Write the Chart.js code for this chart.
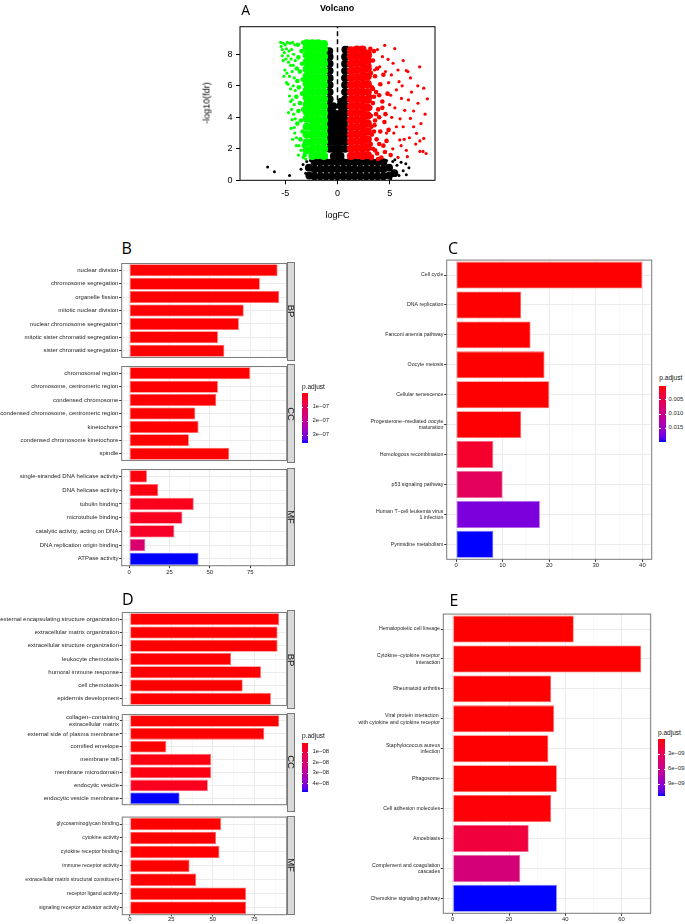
<!DOCTYPE html>
<html><head><meta charset="utf-8">
<script src="https://cdn.jsdelivr.net/npm/chart.js@4.4.1/dist/chart.umd.min.js"></script>
<style>
html,body{margin:0;padding:0;background:#fff;}
#wrap{position:relative;width:685px;height:924px;overflow:hidden;background:#fff;}
#wrap canvas{position:absolute;}
.t{position:absolute;white-space:nowrap;}
</style></head><body><div id="wrap"></div>
<script>
// ================= DATA =================
// Panel A: volcano plot (logFC vs -log10(fdr))
const volcanoXTicks = [-5, 0, 5];
const volcanoYTicks = [0, 2, 4, 6, 8];
const greenDense = [
 [-1.3,1.55],[-1.3,2.0],[-1.3,2.45],[-1.3,2.9],[-1.3,3.35],[-1.3,3.8],[-1.3,4.25],[-1.3,4.7],[-1.3,5.15],[-1.3,5.6],[-1.3,6.05],[-1.3,6.5],[-1.3,6.95],[-1.3,7.4],[-1.3,7.85],[-1.3,8.3],[-1.3,8.65],
 [-1.85,1.6],[-1.85,2.05],[-1.85,2.5],[-1.85,2.95],[-1.85,3.4],[-1.85,3.85],[-1.85,4.3],[-1.85,4.75],[-1.85,5.2],[-1.85,5.65],[-1.85,6.1],[-1.85,6.55],[-1.85,7.0],[-1.85,7.45],[-1.85,7.9],[-1.85,8.35],[-1.85,8.7],
 [-2.4,1.55],[-2.4,2.0],[-2.4,2.45],[-2.4,2.9],[-2.4,3.35],[-2.4,3.8],[-2.4,4.25],[-2.4,4.7],[-2.4,5.15],[-2.4,5.6],[-2.4,6.05],[-2.4,6.5],[-2.4,6.95],[-2.4,7.4],[-2.4,7.85],[-2.4,8.3],[-2.4,8.7],
 [-2.95,1.9],[-2.95,2.4],[-2.95,2.9],[-2.95,3.4],[-2.95,3.9],[-2.95,4.35],[-2.95,4.8],[-2.95,5.25],[-2.95,5.7],[-2.95,6.15],[-2.95,6.6],[-2.95,7.05],[-2.95,7.5],[-2.95,7.95],[-2.95,8.4],[-2.95,8.7]
];
const greenMed = [
 [-3.35,3.1],[-3.5,3.8],[-3.3,4.5],[-3.6,4.9],[-3.4,5.5],[-3.7,5.9],[-3.35,6.4],[-3.6,6.9],[-3.4,7.4],[-3.75,7.8],[-3.45,8.2],[-3.8,8.6],[-3.3,8.75],[-3.9,7.1],[-3.85,6.3],[-3.95,5.3],[-3.75,4.4],[-3.55,2.6],[-3.25,2.2],[-3.15,1.6],[-3.85,3.6]
];
const greenSparse = [
 [-5.45,8.75],[-5.2,8.7],[-5.0,8.6],[-4.8,8.75],[-4.55,8.7],[-4.3,8.75],[-4.1,8.6],[-5.3,8.3],[-5.1,8.1],[-4.9,8.35],[-4.65,8.2],[-4.4,8.3],[-4.2,8.0],[-5.2,7.6],[-4.95,7.7],[-4.7,7.5],[-4.45,7.7],[-4.25,7.3],[-4.05,7.6],[-5.05,7.0],[-4.85,6.8],[-4.6,6.6],[-4.35,6.9],[-4.15,6.5],[-4.75,6.1],[-4.5,5.8],[-4.25,6.0],[-4.05,5.7],[-4.6,5.35],[-4.35,5.1],[-4.15,4.8],[-4.4,4.5],[-4.2,4.2],[-4.05,3.9],[-4.35,3.85],[-4.1,3.0],[-4.15,3.35],[-3.95,2.7],[-3.7,2.2],[-3.5,1.9],[-3.3,1.45],[-3.05,1.35],[-5.4,8.5],
 [-4.9,6.2],[-5.15,6.6],[-4.5,5.0],[-4.7,4.3],[-4.45,3.3],[-3.95,2.2],[-3.75,1.6],[-4.3,2.6],[-5.3,7.9],[-4.75,7.9],[-4.5,7.3]
];
const redDense = [
 [1.3,1.55],[1.3,2.0],[1.3,2.45],[1.3,2.9],[1.3,3.35],[1.3,3.8],[1.3,4.25],[1.3,4.7],[1.3,5.15],[1.3,5.6],[1.3,6.05],[1.3,6.5],[1.3,6.95],[1.3,7.4],[1.3,7.85],[1.3,8.25],
 [1.85,1.6],[1.85,2.05],[1.85,2.5],[1.85,2.95],[1.85,3.4],[1.85,3.85],[1.85,4.3],[1.85,4.75],[1.85,5.2],[1.85,5.65],[1.85,6.1],[1.85,6.55],[1.85,7.0],[1.85,7.45],[1.85,7.9],[1.85,8.3],
 [2.4,1.55],[2.4,2.0],[2.4,2.45],[2.4,2.9],[2.4,3.35],[2.4,3.8],[2.4,4.25],[2.4,4.7],[2.4,5.15],[2.4,5.6],[2.4,6.05],[2.4,6.5],[2.4,6.95],[2.4,7.4],[2.4,7.85],[2.4,8.3],
 [2.9,1.6],[2.9,2.1],[2.9,2.6],[2.9,3.1],[2.9,3.6],[2.9,4.1],[2.9,4.6],[2.9,5.1],[2.9,5.6],[2.9,6.1],[2.9,6.6],[2.9,7.1],[2.9,7.6],[2.9,8.05]
];
const redMed = [
 [3.1,7.9],[3.2,6.8],[3.05,7.3],[2.95,6.2],[3.3,5.9],[3.2,5.3],[3.4,4.9],[3.15,4.6],[3.2,4.1],[3.6,3.8],[3.25,3.4],[3.3,2.9],[3.75,2.6],[3.2,2.3],[3.4,2.0],[3.8,1.7],[3.3,1.5],[4.2,1.45],[4.4,2.2],[4.1,3.1],[4.5,3.7],[3.9,4.5],[4.3,5.0],[3.7,5.6],[4.1,6.1],[3.6,6.6],[4.4,6.7],[3.8,7.1],[3.4,7.6],[4.6,4.2],[4.8,5.5],[4.9,3.2],[4.7,2.5],[5.1,1.6],[3.5,8.2],[3.15,8.35],[3.5,3.1],[3.55,3.5],[4.0,2.3],[3.6,1.9],[3.25,1.4],[4.0,4.0],[4.3,4.6],[3.7,4.2],[3.5,5.3],[4.0,5.4],[3.4,5.8],[4.55,1.8],[3.9,1.35]
];
const redSparse = [
 [3.83,8.3],[4.53,8.57],[5.49,8.36],[7.88,7.2],[6.6,6.97],[6.75,6.9],[8.62,5.17],[8.27,5.85],[7.72,4.89],[7.57,2.98],[7.5,2.3],[8.27,2.66],[7.9,1.83],[8.2,1.83],[6.99,3.93],[6.45,4.44],[6.13,5.2],[5.9,6.26],[5.65,5.74],[5.17,6.69],[5.33,7.43],[4.85,7.68],[4.31,7.85],[4.05,7.2],[3.55,7.0],[5.97,2.56],[6.6,1.9],[5.3,2.0],[5.65,3.4],[4.7,3.0],[6.3,3.4],[7.3,3.4],[6.7,1.5],[5.5,4.6],[6.9,2.7],[5.8,1.45],[7.1,5.6],[5.2,4.0],[6.2,6.0],
 [4.9,6.2],[5.0,4.8],[5.4,3.0],[6.0,3.9],[6.4,2.6],[7.0,6.5],[7.3,4.4],[7.7,6.0],[8.0,3.6],[8.4,4.2],[6.8,5.1],[5.8,7.0],[6.3,7.6],[4.6,6.9],[5.1,5.4],[7.9,2.5],[8.5,1.7],[6.1,2.2]
];
const blackDense = [
 [-0.75,2.0],[-0.75,2.45],[-0.75,2.9],[-0.75,3.35],[-0.75,3.8],[-0.75,4.25],[-0.75,4.7],[-0.75,5.15],[-0.75,5.6],[-0.75,6.05],[-0.75,6.5],[-0.75,6.95],[-0.75,7.4],[-0.75,7.85],[-0.78,8.2],
 [0.72,2.0],[0.72,2.45],[0.72,2.9],[0.72,3.35],[0.72,3.8],[0.72,4.25],[0.72,4.7],[0.72,5.15],[0.72,5.6],[0.72,6.05],[0.72,6.5],[0.72,6.95],[0.72,7.4],[0.72,7.85],[0.75,8.3],
 [-0.35,1.55],[-0.35,2.0],[-0.35,2.45],[-0.35,2.9],[-0.35,3.35],[-0.35,3.8],[-0.35,4.25],[-0.4,4.7],
 [0.3,1.55],[0.3,2.0],[0.3,2.45],[0.3,2.9],[0.3,3.35],[0.3,3.8],[0.3,4.25],[0.32,4.7],[0.35,5.0],
 [-0.02,1.55],[-0.02,2.0],[-0.02,2.45],[-0.02,2.9],[-0.02,3.35],[-0.02,3.8],[-0.02,4.2],
 [-2.2,0.25],[-1.65,0.25],[-1.1,0.25],[-0.55,0.25],[0,0.25],[0.55,0.25],[1.1,0.25],[1.65,0.25],[2.2,0.25],[2.75,0.25],[3.3,0.25],[3.85,0.25],[4.4,0.25],
 [-2.2,0.7],[-1.65,0.7],[-1.1,0.7],[-0.55,0.7],[0,0.7],[0.55,0.7],[1.1,0.7],[1.65,0.7],[2.2,0.7],[2.75,0.7],[3.3,0.7],[3.85,0.7],[4.4,0.7],
 [-2.2,1.15],[-1.65,1.15],[-1.1,1.15],[-0.55,1.15],[0,1.15],[0.55,1.15],[1.1,1.15],[1.65,1.15],[2.2,1.15],[2.75,1.15],[3.3,1.15],[3.85,1.15],[4.4,1.15],
 [-2.7,0.3],[-2.75,0.8],[4.95,0.3],[4.95,0.8],[5.45,0.45]
];
const blackSparse = [
 [-6.7,0.85],[-6.05,0.55],[-4.6,0.3],[-3.3,1.0],[-3.05,0.45],[-2.95,1.2],[-3.5,0.7],[5.3,1.2],[5.7,0.95],[5.9,0.3],[6.1,1.15],[6.3,0.6],[6.55,1.05],[6.6,0.35],[6.85,0.8],[5.5,1.3],[-1.0,8.35],[-0.9,8.0],[0.95,8.45],[-0.55,6.4],[0.5,6.5],[-2.6,1.25],[-2.4,0.15],[4.7,1.25],[5.1,0.1]
];

// Panel B: GO enrichment (Count)
const bXTicks = [0, 12.5, 25, 37.5, 50, 62.5, 75, 87.5];
const bXMajor = [0, 25, 50, 75];
const bBpLabels = ["nuclear division","chromosome segregation","organelle fission","mitotic nuclear division","nuclear chromosome segregation","mitotic sister chromatid segregation","sister chromatid segregation"];
const bBpCounts = [92, 81, 93, 71, 68, 55, 59];
const bBpP = [2.1e-30, 5.3e-28, 1.7e-29, 4.4e-25, 8.2e-26, 3.1e-22, 6.0e-23];
const bCcLabels = ["chromosomal region","chromosome, centromeric region","condensed chromosome","condensed chromosome, centromeric region","kinetochore","condensed chromosome kinetochore","spindle"];
const bCcCounts = [75, 55, 54, 41, 43, 37, 62];
const bCcP = [3.4e-27, 1.2e-24, 5.6e-21, 2.2e-20, 7.7e-19, 3.9e-18, 4.5e-16];
const bMfLabels = ["single-stranded DNA helicase activity","DNA helicase activity","tubulin binding","microtubule binding","catalytic activity, acting on DNA","DNA replication origin binding","ATPase activity"];
const bMfCounts = [11, 18, 40, 33, 28, 10, 43];
const bMfP = [7.1e-9, 1.07e-8, 2.1e-8, 2.5e-8, 3.2e-8, 1.36e-7, 3.57e-7];
const bLegendTicks = [1e-7, 2e-7, 3e-7];
const bLegendLabels = ["1e\u221207","2e\u221207","3e\u221207"];

// Panel C: KEGG (Count)
const cXTicks = [0, 5, 10, 15, 20, 25, 30, 35, 40];
const cXMajor = [0, 10, 20, 30, 40];
const cLabels = ["Cell cycle","DNA replication","Fanconi anemia pathway","Oocyte meiosis","Cellular senescence",["Progesterone\u2212mediated oocyte","maturation"],"Homologous recombination","p53 signaling pathway",["Human T\u2212cell leukemia virus","1 infection"],"Pyrimidine metabolism"];
const cCounts = [40, 14, 16, 19, 20, 14, 8, 10, 18, 8];
const cP = [3.2e-12, 1.1e-7, 2.4e-6, 1.9e-5, 3.0e-5, 1.2e-4, 0.0022, 0.0059, 0.0168, 0.01973];
const cLegendTicks = [0.005, 0.010, 0.015];
const cLegendLabels = ["0.005","0.010","0.015"];

// Panel D: GO enrichment (Count)
const dXTicks = [0, 12.5, 25, 37.5, 50, 62.5, 75, 87.5];
const dXMajor = [0, 25, 50, 75];
const dBpLabels = ["external encapsulating structure organization","extracellular matrix organization","extracellular structure organization","leukocyte chemotaxis","humoral immune response","cell chemotaxis","epidermis development"];
const dBpCounts = [90, 89, 89, 61, 79, 68, 85];
const dBpP = [1.5e-30, 2.2e-30, 2.6e-30, 4.1e-20, 7.3e-18, 9.9e-17, 3.3e-15];
const dCcLabels = [["collagen\u2212containing","extracellular matrix"],"external side of plasma membrane","cornified envelope","membrane raft","membrane microdomain","endocytic vesicle","endocytic vesicle membrane"];
const dCcCounts = [90, 81, 22, 49, 49, 47, 30];
const dCcP = [1.2e-20, 3.5e-15, 4.1e-12, 2.4e-9, 2.4e-9, 3.9e-9, 4.75e-8];
const dMfLabels = ["glycosaminoglycan binding","cytokine activity","cytokine receptor binding","immune receptor activity","extracellular matrix structural constituent","receptor ligand activity","signaling receptor activator activity"];
const dMfCounts = [55, 52, 54, 36, 40, 70, 70];
const dMfP = [2.8e-16, 5.1e-15, 7.7e-15, 1.9e-13, 3.6e-13, 6.4e-18, 8.8e-18];
const dLegendTicks = [1e-8, 2e-8, 3e-8, 4e-8];
const dLegendLabels = ["1e\u221208","2e\u221208","3e\u221208","4e\u221208"];

// Panel E: KEGG (Count)
const eXTicks = [0, 10, 20, 30, 40, 50, 60, 70];
const eXMajor = [0, 20, 40, 60];
const eLabels = ["Hematopoietic cell lineage",["Cytokine\u2212cytokine receptor","interaction"],"Rheumatoid arthritis",["Viral protein interaction ","with cytokine and cytokine receptor"],["Staphylococcus aureus","infection"],"Phagosome","Cell adhesion molecules","Amoebiasis",["Complement and coagulation","cascades"],"Chemokine signaling pathway"];
const eCounts = [43, 67, 35, 36, 34, 37, 35, 27, 24, 37];
const eP = [1.1e-14, 2.2e-17, 8.0e-13, 3.1e-12, 2.6e-12, 9.5e-12, 1.4e-10, 1.9e-9, 4.8e-9, 1.14e-8];
const eLegendTicks = [3e-9, 6e-9, 9e-9];
const eLegendLabels = ["3e\u221209","6e\u221209","9e\u221209"];

// ================= HELPERS =================
const wrap = document.getElementById('wrap');
function fontAvailable(name){
  const c = document.createElement('canvas').getContext('2d');
  const s = 'abcdefghijklmnopqrstuvwxyz ABCDEFG 0123456789';
  c.font = '20px monospace'; const a = c.measureText(s).width;
  c.font = '20px serif'; const b = c.measureText(s).width;
  c.font = `20px "${name}", monospace`; const a2 = c.measureText(s).width;
  c.font = `20px "${name}", serif`; const b2 = c.measureText(s).width;
  return a !== a2 || b !== b2;
}
const HAS_NARROW = fontAvailable('Liberation Sans Narrow');
const NF = HAS_NARROW ? '"Liberation Sans Narrow", "Liberation Sans", Arial, sans-serif' : '"Liberation Sans", Arial, sans-serif';
const NS = HAS_NARROW ? 1 : 0.82;
const SF = '"Liberation Sans", Arial, Helvetica, sans-serif';
const LF = '"Open Sans", "Liberation Sans", sans-serif';
const TXT = '#1f1f1f';
Chart.defaults.font.family = SF;

// Lab interpolation red -> blue (ggplot continuous colour scale)
function s2l(c){c/=255;return c<=0.04045?c/12.92:Math.pow((c+0.055)/1.055,2.4);}
function l2s(v){v=v<=0.0031308?12.92*v:1.055*Math.pow(Math.max(v,0),1/2.4)-0.055;return Math.round(Math.max(0,Math.min(1,v))*255);}
function rgb2lab(rgb){
  const r=s2l(rgb[0]),g=s2l(rgb[1]),b=s2l(rgb[2]);
  const X=(0.4124*r+0.3576*g+0.1805*b)/0.95047, Y=0.2126*r+0.7152*g+0.0722*b, Z=(0.0193*r+0.1192*g+0.9505*b)/1.08883;
  const f=t=>t>0.008856?Math.cbrt(t):(7.787*t+16/116);
  return [116*f(Y)-16, 500*(f(X)-f(Y)), 200*(f(Y)-f(Z))];
}
function lab2rgb(lab){
  const fy=(lab[0]+16)/116, fx=fy+lab[1]/500, fz=fy-lab[2]/200;
  const fi=t=>t>0.206893?t*t*t:(t-16/116)/7.787;
  const X=0.95047*fi(fx), Y=fi(fy), Z=1.08883*fi(fz);
  return [l2s(3.2406*X-1.5372*Y-0.4986*Z), l2s(-0.9689*X+1.8758*Y+0.0415*Z), l2s(0.0557*X-0.2040*Y+1.0570*Z)];
}
const LAB_LO = rgb2lab([255,0,0]), LAB_HI = rgb2lab([0,0,255]);
function gradRGB(t){ t=Math.max(0,Math.min(1,t)); return lab2rgb(LAB_LO.map((v,i)=>v+(LAB_HI[i]-v)*t)); }
function colorFor(p,min,max){ const c=gradRGB((p-min)/(max-min)); return `rgb(${c[0]},${c[1]},${c[2]})`; }
function edgeFor(p,min,max){ const c=gradRGB((p-min)/(max-min)).map(v=>Math.round(v+(255-v)*0.4)); return `rgb(${c[0]},${c[1]},${c[2]})`; }

function addCanvas(x,y,w,h){
  const c=document.createElement('canvas');
  c.width=w; c.height=h; c.style.left=x+'px'; c.style.top=y+'px'; c.style.width=w+'px'; c.style.height=h+'px';
  wrap.appendChild(c); return c;
}
function txt(s,x,y,o){
  const d=document.createElement('div'); d.className='t'; d.textContent=s;
  d.style.fontFamily=o.family||SF; d.style.fontSize=o.size+'px'; d.style.fontWeight=o.weight||'normal';
  d.style.lineHeight=o.size+'px'; d.style.color=o.color||'#000';
  d.style.left=x+'px'; d.style.top=y+'px';
  if(o.align==='center'||o.rotate){ d.style.transform=`translate(-50%,-50%) rotate(${o.rotate||0}deg)`; }
  else d.style.transform='translateY(-50%)';
  d.style.zIndex=5; wrap.appendChild(d); return d;
}
function box(x,y,w,h,css){
  const d=document.createElement('div'); d.style.position='absolute';
  d.style.left=x+'px'; d.style.top=y+'px'; d.style.width=w+'px'; d.style.height=h+'px'; d.style.boxSizing='border-box';
  Object.assign(d.style,css); d.style.zIndex=4; wrap.appendChild(d); return d;
}

const deco = {
  id:'deco',
  afterDraw(chart,args,o){
    const {ctx,chartArea:a}=chart;
    ctx.save(); ctx.strokeStyle=o.border||'#777'; ctx.lineWidth=o.width||1;
    ctx.strokeRect(a.left,a.top,a.right-a.left,a.bottom-a.top); ctx.restore();
  }
};

function barFacet(o){
  const cTop=Math.floor(o.T-2);
  const cBot=Math.min(924,Math.ceil(o.B+o.axisH+1));
  const cv=addCanvas(o.cl,cTop,o.cw,cBot-cTop);
  const padTop=o.T-cTop, padBottom=cBot-o.B-o.axisH, padRight=o.cl+o.cw-o.R, yW=o.L-o.cl;
  const isMaj=v=>o.xmajor.includes(v);
  new Chart(cv,{
    type:'bar',
    data:{labels:o.labels,datasets:[{data:o.counts,
      backgroundColor:o.p.map(v=>colorFor(v,o.pmin,o.pmax)),
      borderColor:o.p.map(v=>edgeFor(v,o.pmin,o.pmax)),
      borderWidth:0.8,borderSkipped:false,barPercentage:0.9,categoryPercentage:1}]},
    options:{
      indexAxis:'y',responsive:false,animation:false,events:[],
      layout:{padding:{top:padTop,bottom:padBottom,left:0,right:padRight}},
      plugins:{legend:{display:false},tooltip:{enabled:false},deco:{border:'#7a7a7a'}},
      scales:{
        x:{type:'linear',min:o.xmin,max:o.xmax,
          afterBuildTicks:s=>{s.ticks=o.xticks.map(v=>({value:v}));},
          afterFit:s=>{s.height=o.axisH;},
          border:{display:false},
          grid:{color:c=>isMaj(c.tick&&c.tick.value)?'#ebebeb':'#f4f4f4',lineWidth:c=>isMaj(c.tick&&c.tick.value)?1:0.6,
            drawTicks:!!o.showX,tickLength:o.xtl||2.5,tickColor:c=>isMaj(c.tick&&c.tick.value)?'#333':'rgba(0,0,0,0)'},
          ticks:{display:!!o.showX,autoSkip:false,maxRotation:0,padding:o.xpad||0,color:TXT,
            font:{family:NF,size:7.2*NS,lineHeight:1},callback:v=>isMaj(v)?String(v):''}},
        y:{type:'category',afterFit:s=>{s.width=yW;},border:{display:false},
          grid:{offset:false,color:'#ebebeb',lineWidth:1,drawTicks:true,tickLength:2.5,tickColor:'#333'},
          ticks:{autoSkip:false,padding:o.tpad||0.8,color:TXT,font:{family:NF,size:o.ls*NS,lineHeight:1.25}}}
      }
    },
    plugins:[deco]
  });
  if(o.strip){
    box(o.R+0.6,o.T,7.4,o.B-o.T,{background:'#d9d9d9',border:'1px solid #7a7a7a'});
    txt(o.strip,o.R+0.6+3.7,(o.T+o.B)/2,{size:9.5,color:'#1a1a1a',rotate:90});
  }
}

function legend(o){
  txt('p.adjust',o.x,o.ty,{family:NF,size:8*NS,color:'#111'});
  const stops=[]; for(let i=0;i<=20;i++){const c=gradRGB(i/20); stops.push(`rgb(${c[0]},${c[1]},${c[2]}) ${i*5}%`);}
  box(o.bx,o.bt,o.bw,o.bh,{background:`linear-gradient(to bottom, ${stops.join(',')})`});
  o.ticks.forEach((v,i)=>{
    const y=o.bt+(v-o.min)/(o.max-o.min)*o.bh;
    box(o.bx,y-0.5,o.bw*0.22,1,{background:'#fff'});
    box(o.bx+o.bw*0.78,y-0.5,o.bw*0.22,1,{background:'#fff'});
    txt(o.labels[i],o.lx,y,{family:NF,size:7.2*NS,color:TXT});
  });
}

// ================= PANEL A: VOLCANO =================
(function(){
  const cv=addCanvas(200,0,260,225);
  const P=a=>a.map(([x,y])=>({x,y}));
  const ds=(data,color,r,order)=>({data:P(data),backgroundColor:color,borderWidth:0,pointRadius:r,pointHoverRadius:r,order});
  new Chart(cv,{
    type:'scatter',
    data:{datasets:[
      {data:[{x:0,y:0},{x:0,y:9.75}],showLine:true,borderColor:'#000',borderWidth:1.5,borderDash:[5,3],pointRadius:0,order:0},
      ds(redDense,'#ff0000',4.1,1), ds(redMed,'#ff0000',2.3,1), ds(redSparse,'#ff0000',1.6,1),
      ds(greenDense,'#00ff00',4.1,1), ds(greenMed,'#00ff00',2.3,1), ds(greenSparse,'#00ff00',1.6,1),
      ds(blackDense,'#000000',3.9,2), ds(blackSparse,'#000000',1.5,2)
    ]},
    options:{
      responsive:false,animation:false,events:[],
      layout:{padding:{top:26.7,right:25,left:0,bottom:0}},
      plugins:{legend:{display:false},tooltip:{enabled:false},deco:{border:'#000'}},
      scales:{
        x:{type:'linear',min:-9.35,max:9.35,afterBuildTicks:s=>{s.ticks=volcanoXTicks.map(v=>({value:v}));},
          afterFit:s=>{s.height=44.7;},border:{display:false},
          grid:{drawOnChartArea:false,drawTicks:true,tickLength:4,tickColor:'#000'},
          ticks:{color:'#000',padding:5.2,font:{family:SF,size:9,lineHeight:1}}},
        y:{type:'linear',min:0,max:9.75,afterBuildTicks:s=>{s.ticks=volcanoYTicks.map(v=>({value:v}));},
          afterFit:s=>{s.width=40;},border:{display:false},
          grid:{drawOnChartArea:false,drawTicks:true,tickLength:4,tickColor:'#000'},
          ticks:{color:'#000',padding:3.5,font:{family:SF,size:9,lineHeight:1}}}
      }
    },
    plugins:[deco]
  });
  txt('A',241.3,10,{family:LF,size:14});
  txt('Volcano',337.2,7.5,{size:9,weight:'bold',align:'center'});
  txt('-log10(fdr)',207.3,103.3,{size:9,rotate:-90});
  txt('logFC',337.5,215,{size:9,align:'center'});
})();

// ================= PANEL B =================
const bCommon={cl:0,cw:300,L:121.7,R:286.7,xmin:-4.65,xmax:97.65,xticks:bXTicks,xmajor:bXMajor,pmin:0,pmax:3.57e-7,ls:7.3};
barFacet({...bCommon,T:261.7,B:361.0,axisH:0,labels:bBpLabels,counts:bBpCounts,p:bBpP,strip:'BP'});
barFacet({...bCommon,T:364.0,B:463.3,axisH:0,labels:bCcLabels,counts:bCcCounts,p:bCcP,strip:'CC'});
barFacet({...bCommon,T:467.7,B:565.7,axisH:14,showX:true,xtl:2.5,xpad:1.4,labels:bMfLabels,counts:bMfCounts,p:bMfP,strip:'MF'});
txt('B',121.5,248.3,{family:LF,size:16});
legend({x:302,ty:386.7,bx:301.7,bt:393.3,bw:6.7,bh:50,min:0,max:3.57e-7,ticks:bLegendTicks,labels:bLegendLabels,lx:312.5});

// ================= PANEL C =================
barFacet({cl:340,cw:315,L:446.7,R:651.7,T:258.3,B:559.3,axisH:14,showX:true,xtl:2.5,xpad:0.8,
  xmin:-2,xmax:42,xticks:cXTicks,xmajor:cXMajor,pmin:0,pmax:0.01973,ls:6.4,labels:cLabels,counts:cCounts,p:cP});
txt('C',448,248,{family:LF,size:16});
legend({x:659.3,ty:378,bx:659.3,bt:385.7,bw:6.7,bh:56,min:0,max:0.01973,ticks:cLegendTicks,labels:cLegendLabels,lx:668.5});

// ================= PANEL D =================
const dCommon={cl:0,cw:300,L:122.3,R:286.7,xmin:-4.5,xmax:94.5,xticks:dXTicks,xmajor:dXMajor,pmin:0.1e-8,pmax:4.75e-8};
barFacet({...dCommon,T:610.0,B:709.0,axisH:0,ls:7.3,labels:dBpLabels,counts:dBpCounts,p:dBpP,strip:'BP'});
barFacet({...dCommon,T:712.7,B:812.0,axisH:0,ls:7.3,labels:dCcLabels,counts:dCcCounts,p:dCcP,strip:'CC'});
barFacet({...dCommon,T:815.7,B:914.7,axisH:9.3,showX:true,xtl:1.7,xpad:0,ls:6.4,labels:dMfLabels,counts:dMfCounts,p:dMfP,strip:'MF'});
txt('D',122,599.2,{family:LF,size:16});
legend({x:302,ty:735.7,bx:301.7,bt:742.5,bw:6.7,bh:49.2,min:0.1e-8,max:4.75e-8,ticks:dLegendTicks,labels:dLegendLabels,lx:312.5});

// ================= PANEL E =================
barFacet({cl:340,cw:315,L:443.3,R:650.7,T:612.3,B:913.3,axisH:10.7,showX:true,xtl:2.5,xpad:1.0,
  xmin:-3.35,xmax:70.35,xticks:eXTicks,xmajor:eXMajor,pmin:0,pmax:1.14e-8,ls:6.4,labels:eLabels,counts:eCounts,p:eP});
txt('E',449.5,600,{family:LF,size:16});
legend({x:658,ty:732.7,bx:658,bt:739.3,bw:7.3,bh:56.7,min:0,max:1.14e-8,ticks:eLegendTicks,labels:eLegendLabels,lx:668});
</script></body></html>
